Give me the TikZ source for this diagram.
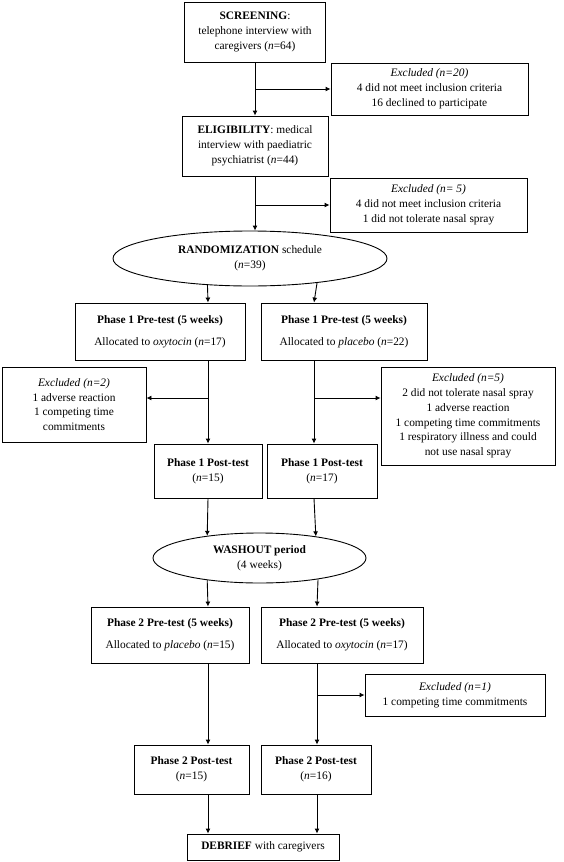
\documentclass[tikz,border=0pt]{standalone}
\usepackage{fontspec}
\setmainfont{Liberation Serif}
\usetikzlibrary{shapes.geometric,arrows.meta}

\begin{document}
\begin{tikzpicture}[x=10pt,y=-10pt,
    box/.style={draw,line width=0.9pt,align=center,inner sep=1.5pt,font=\fontsize{11.4}{14.8}\selectfont},
    ovale/.style={box,ellipse},
    freccia/.style={-{Latex[length=5pt,width=5pt]},line width=0.9pt}]
  \useasboundingbox (0,0) rectangle (56.3,86.2);
  %colonne
  \coordinate (colA) at (20.8,0);
  \coordinate (colB) at (31.4,0);
  \coordinate (colD) at (31.7,0);
  %reclutamento
  \node[box,minimum width=141pt,minimum height=60pt] (screen) at (25.5,3.2)
    {\textbf{SCREENING}:\\telephone interview with\\caregivers (\textit{n}=64)};
  \node[box,minimum width=197pt,minimum height=52pt] (excl1) at (42.95,8.9)
    {\textit{Excluded (n=20)}\\4 did not meet inclusion criteria\\16 declined to participate};
  \node[box,minimum width=146pt,minimum height=60pt] (elig) at (25.5,14.6)
    {\textbf{ELIGIBILITY}: medical\\interview with paediatric\\psychiatrist (\textit{n}=44)};
  \node[box,minimum width=197pt,minimum height=54pt] (excl2) at (42.85,20.5)
    {\textit{Excluded (n= 5)}\\4 did not meet inclusion criteria\\1 did not tolerate nasal spray};
  \node[ovale,minimum width=274pt,minimum height=55pt] (rand) at (25.0,25.85)
    {\textbf{RANDOMIZATION} schedule\\(\textit{n}=39)};
  %prima fase
  \node[box,minimum width=170pt,minimum height=57pt] (pre1a) at (16.0,33.15)
    {\textbf{Phase 1 Pre-test (5 weeks)}\\[7pt]Allocated to \textit{oxytocin} (\textit{n}=17)};
  \node[box,minimum width=166pt,minimum height=57pt] (pre1b) at (34.4,33.15)
    {\textbf{Phase 1 Pre-test (5 weeks)}\\[7pt]Allocated to \textit{placebo} (\textit{n}=22)};
  \node[box,minimum width=144pt,minimum height=75pt] (excl3) at (7.4,40.45)
    {\textit{Excluded (n=2)}\\1 adverse reaction\\1 competing time\\commitments};
  \node[box,minimum width=174pt,minimum height=98pt] (excl4) at (46.8,41.6)
    {\textit{Excluded (n=5)}\\2 did not tolerate nasal spray\\1 adverse reaction\\1 competing time commitments\\1 respiratory illness and could\\not use nasal spray};
  \node[box,minimum width=108pt,minimum height=54pt] (post1a) at (20.8,47.1)
    {\textbf{Phase 1 Post-test}\\(\textit{n}=15)};
  \node[box,minimum width=110pt,minimum height=54pt] (post1b) at (32.2,47.1)
    {\textbf{Phase 1 Post-test}\\(\textit{n}=17)};
  \node[ovale,minimum width=213pt,minimum height=50pt] (wash) at (25.95,55.8)
    {\textbf{WASHOUT period}\\(4 weeks)};
  %seconda fase
  \node[box,minimum width=158pt,minimum height=56pt] (pre2a) at (17.0,63.5)
    {\textbf{Phase 2 Pre-test (5 weeks)}\\[7pt]Allocated to \textit{placebo} (\textit{n}=15)};
  \node[box,minimum width=162pt,minimum height=56pt] (pre2b) at (34.2,63.5)
    {\textbf{Phase 2 Pre-test (5 weeks)}\\[7pt]Allocated to \textit{oxytocin} (\textit{n}=17)};
  \node[box,minimum width=180pt,minimum height=42pt] (excl5) at (45.5,69.5)
    {\textit{Excluded (n=1)}\\1 competing time commitments};
  \node[box,minimum width=115pt,minimum height=49pt] (post2a) at (19.15,76.95)
    {\textbf{Phase 2 Post-test}\\(\textit{n}=15)};
  \node[box,minimum width=110pt,minimum height=49pt] (post2b) at (31.6,76.95)
    {\textbf{Phase 2 Post-test}\\(\textit{n}=16)};
  \node[box,minimum width=152pt,minimum height=26pt] (debrief) at (26.3,84.7)
    {\textbf{DEBRIEF} with caregivers};
  %frecce
  \draw[freccia] (screen.south) -- (screen.south |- elig.north);
  \draw[freccia] (screen.south |- excl1.west) -- (excl1.west);
  \draw[freccia] (elig.south) -- (elig.south |- rand.north);
  \draw[freccia] (elig.south |- excl2.west) -- (excl2.west);
  \draw[freccia] (rand.-148.07) -- (colA |- pre1a.north);
  \draw[freccia] (rand.-20.8) -- (colB |- pre1b.north);
  \coordinate (brA) at (20.8,39.8);
  \coordinate (brB) at (31.4,39.8);
  \draw[freccia] (colA |- pre1a.south) -- (colA |- post1a.north);
  \draw[freccia] (colB |- pre1b.south) -- (colB |- post1b.north);
  \draw[freccia] (brA) -- (brA -| excl3.east);
  \draw[freccia] (brB) -- (brB -| excl4.west);
  \draw[freccia] (colA |- post1a.south) -- (wash.157);
  \draw[freccia] (colB |- post1b.south) -- (wash.21.5);
  \draw[freccia] (wash.-157) -- (colA |- pre2a.north);
  \draw[freccia] (wash.-20.1) -- (colD |- pre2b.north);
  \draw[freccia] (colA |- pre2a.south) -- (colA |- post2a.north);
  \draw[freccia] (colD |- pre2b.south) -- (colD |- post2b.north);
  \draw[freccia] (colD |- excl5.west) -- (excl5.west);
  \draw[freccia] (colA |- post2a.south) -- (colA |- debrief.north);
  \draw[freccia] (colD |- post2b.south) -- (colD |- debrief.north);
\end{tikzpicture}
\end{document}
